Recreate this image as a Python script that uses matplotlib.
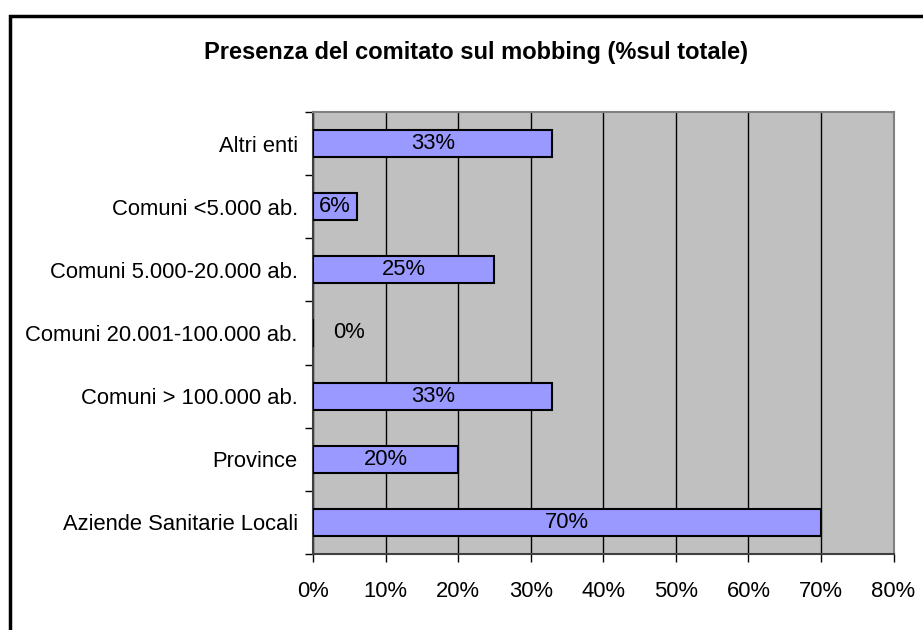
import numpy as np
import matplotlib
matplotlib.use("Agg")
import matplotlib.pyplot as plt
from matplotlib.patches import Rectangle

# dati (dal basso verso l'alto)
categorie = ["Aziende Sanitarie Locali", "Province", "Comuni > 100.000 ab.",
             "Comuni 20.001-100.000 ab.", "Comuni 5.000-20.000 ab.",
             "Comuni <5.000 ab.", "Altri enti"]
valori = [70, 20, 33, 0, 25, 6, 33]
xticks = [0, 10, 20, 30, 40, 50, 60, 70, 80]

plt.rcParams["font.family"] = ["Liberation Sans", "DejaVu Sans"]
fs = 15.8

fig = plt.figure(figsize=(9.23, 6.3), dpi=100)
fig.patch.set_facecolor("white")

# cornice del grafico (solo bordo sinistro e superiore visibili)
fig.patches.append(Rectangle((9.5 / 923, -0.5), 2, 0.5 + (1 - 16 / 630),
                             transform=fig.transFigure, fill=False,
                             edgecolor="black", linewidth=2.5))

ax = fig.add_axes([313 / 923, 1 - 554 / 630, (893.5 - 313) / 923, (554 - 112) / 630])
ax.set_facecolor("#C0C0C0")

y = np.arange(len(categorie))
ax.barh(y, valori, height=0.43, color="#9999FF", edgecolor="black", linewidth=1.5, zorder=3)

for yi, v in zip(y, valori):
    if v == 0:
        ax.annotate(f"{v}%", (0, yi), xytext=(14.5, 0), textcoords="offset points",
                    ha="left", va="center", fontsize=fs, zorder=4)
    else:
        ax.text(v / 2, yi, f"{v}%", ha="center", va="center", fontsize=fs, zorder=4)

ax.set_xlim(0, 80)
ax.set_ylim(-0.5, len(categorie) - 0.5)
ax.set_xticks(xticks)
ax.set_xticklabels([f"{t}%" for t in xticks], fontsize=fs)
ax.xaxis.grid(True, color="black", linewidth=1)
ax.set_axisbelow(True)

ax.set_yticks(y)
ax.set_yticklabels(categorie, fontsize=fs)
ax.set_yticks(np.arange(-0.5, len(categorie), 1), minor=True)
ax.tick_params(axis="y", which="major", length=0, pad=11)
ax.tick_params(axis="y", which="minor", length=6, width=1, direction="out")
ax.tick_params(axis="x", length=6, width=1, direction="out", pad=13.5)

for s in ["top", "right"]:
    ax.spines[s].set_color("#808080")
    ax.spines[s].set_linewidth(1.5)
for s in ["left", "bottom"]:
    ax.spines[s].set_color("#404040")
    ax.spines[s].set_linewidth(1.5)

fig.text(476 / 923, 1 - 53 / 630, "Presenza del comitato sul mobbing (%sul totale)",
         ha="center", va="center", fontsize=17, fontweight="bold")

fig.savefig("out.png", dpi=100)
